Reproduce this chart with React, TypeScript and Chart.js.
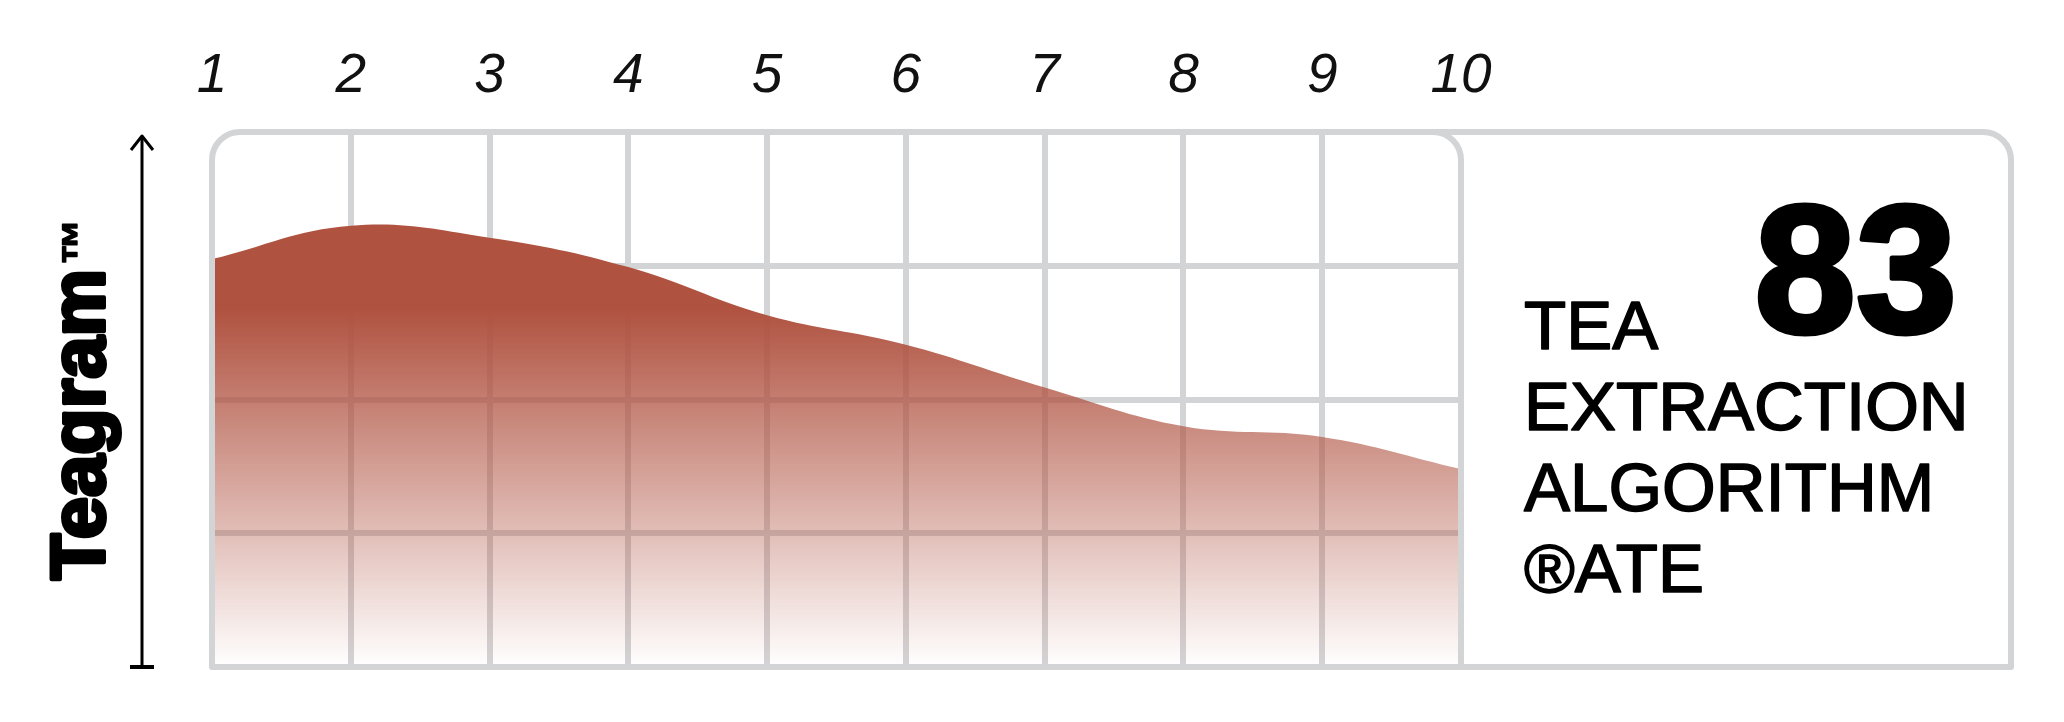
import React, { useEffect, useRef } from "react";
import { Chart, registerables } from "chart.js";

Chart.register(...registerables);

// ---- data ----
const categories = ["1", "2", "3", "4", "5", "6", "7", "8", "9", "10"];
const extraction = [3.05, 3.3, 3.21, 2.99, 2.63, 2.41, 2.09, 1.8, 1.72, 1.48];
const yMin = 0;
const yMax = 4;
const yStep = 1;
const score = "83";
const panelLines = ["TEA", "EXTRACTION", "ALGORITHM", "®ATE"];
const axisTitle = "Teagram";
const trademark = "™";

const GRID = "#d3d4d6";
const FILL_RGB = "176,82,64";
const FONT = "'Liberation Sans', Arial, sans-serif";

const decorPlugin = {
  id: "decor",
  afterDatasetsDraw(chart: any) {
    const { ctx, chartArea } = chart;
    const L = chartArea.left;
    const R = chartArea.right;
    const T = chartArea.top;
    const B = chartArea.bottom;
    const PR = chart.width - 45;
    const r = 28;
    ctx.save();
    ctx.strokeStyle = GRID;
    ctx.lineWidth = 6;
    ctx.lineJoin = "round";
    ctx.beginPath();
    ctx.moveTo(L, B);
    ctx.lineTo(L, T + r);
    ctx.arcTo(L, T, L + r, T, r);
    ctx.lineTo(R - r, T);
    ctx.arcTo(R, T, R, T + r, r);
    ctx.lineTo(R, B);
    ctx.closePath();
    ctx.stroke();
    ctx.beginPath();
    ctx.moveTo(R - r, T);
    ctx.lineTo(PR - r, T);
    ctx.arcTo(PR, T, PR, T + r, r);
    ctx.lineTo(PR, B);
    ctx.lineTo(R, B);
    ctx.stroke();
    ctx.restore();
  },
  afterDraw(chart: any) {
    const { ctx, chartArea } = chart;
    const T = chartArea.top;
    const B = chartArea.bottom;
    ctx.save();
    ctx.fillStyle = "#000";
    ctx.strokeStyle = "#000";
    ctx.lineJoin = "round";

    // vertical arrow
    const ax = 134;
    ctx.lineWidth = 3;
    ctx.beginPath();
    ctx.moveTo(ax, T + 4);
    ctx.lineTo(ax, B);
    ctx.stroke();
    ctx.beginPath();
    ctx.moveTo(ax - 11, T + 18);
    ctx.lineTo(ax, T + 4);
    ctx.lineTo(ax + 11, T + 18);
    ctx.stroke();
    ctx.lineWidth = 4;
    ctx.beginPath();
    ctx.moveTo(ax - 12, B);
    ctx.lineTo(ax + 12, B);
    ctx.stroke();

    // rotated axis title
    ctx.save();
    ctx.translate(96, 572);
    ctx.rotate(-Math.PI / 2);
    ctx.textAlign = "left";
    ctx.textBaseline = "alphabetic";
    ctx.font = `bold 76px ${FONT}`;
    ctx.lineWidth = 4;
    ctx.fillText(axisTitle, 0, 0);
    ctx.strokeText(axisTitle, 0, 0);
    const w = ctx.measureText(axisTitle).width;
    ctx.font = `bold 46px ${FONT}`;
    ctx.lineWidth = 1.5;
    ctx.fillText(trademark, w + 4, -10);
    ctx.strokeText(trademark, w + 4, -10);
    ctx.restore();

    // score
    ctx.textAlign = "right";
    ctx.textBaseline = "alphabetic";
    ctx.font = `bold 182px ${FONT}`;
    ctx.lineWidth = 5;
    ctx.fillText(score, 1949, 324);
    ctx.strokeText(score, 1949, 324);

    // panel caption
    ctx.textAlign = "left";
    ctx.font = `69px ${FONT}`;
    ctx.lineWidth = 1.6;
    const baselines = [341, 422, 503, 584];
    panelLines.forEach((line, i) => {
      ctx.fillText(line, 1516, baselines[i]);
      ctx.strokeText(line, 1516, baselines[i]);
    });
    ctx.restore();
  },
};

export default function App() {
  const canvasRef = useRef<HTMLCanvasElement | null>(null);

  useEffect(() => {
    const canvas = canvasRef.current;
    if (!canvas) return;
    const chart = new Chart(canvas, {
      type: "line",
      data: {
        labels: categories,
        datasets: [
          {
            label: "Teagram",
            data: extraction,
            fill: "origin",
            tension: 0.4,
            borderWidth: 0,
            borderColor: `rgba(${FILL_RGB},1)`,
            pointRadius: 0,
            backgroundColor: (c: any) => {
              const ch = c.chart;
              const area = ch.chartArea;
              if (!area) return `rgba(${FILL_RGB},1)`;
              const g = ch.ctx.createLinearGradient(0, area.top, 0, area.bottom);
              g.addColorStop(0, `rgba(${FILL_RGB},1)`);
              g.addColorStop(0.33, `rgba(${FILL_RGB},1)`);
              g.addColorStop(1, `rgba(${FILL_RGB},0)`);
              return g;
            },
          },
        ],
      },
      options: {
        animation: false,
        responsive: false,
        layout: { padding: { left: 204, right: 595, top: 0, bottom: 47 } },
        plugins: {
          legend: { display: false },
          tooltip: { enabled: false },
          title: { display: false },
        },
        scales: {
          x: {
            position: "top",
            offset: false,
            border: { display: false },
            grid: {
              drawTicks: false,
              lineWidth: 6,
              color: (c: any) =>
                c.index === 0 || c.index === categories.length - 1 ? "rgba(0,0,0,0)" : GRID,
            },
            ticks: {
              padding: 22,
              color: "#111",
              maxRotation: 0,
              autoSkip: false,
              font: { family: FONT, size: 55, style: "italic", weight: "normal" },
            },
            afterFit: (s: any) => {
              s.height = 124;
            },
          },
          y: {
            display: true,
            min: yMin,
            max: yMax,
            border: { display: false },
            grid: {
              drawTicks: false,
              lineWidth: 6,
              color: (c: any) =>
                c.tick && (c.tick.value === yMin || c.tick.value === yMax) ? "rgba(0,0,0,0)" : GRID,
            },
            ticks: { display: false, stepSize: yStep },
            afterFit: (s: any) => {
              s.width = 0;
            },
          },
        },
      },
      plugins: [decorPlugin],
    });
    return () => chart.destroy();
  }, []);

  return (
    <div>
      <canvas ref={canvasRef} width={2048} height={706} style={{ display: "block" }} />
    </div>
  );
}
